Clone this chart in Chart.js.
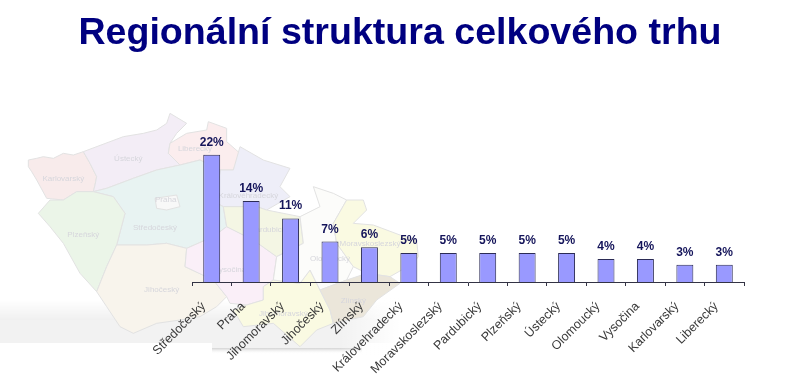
<!DOCTYPE html>
<html><head><meta charset="utf-8">
<script src="https://cdn.jsdelivr.net/npm/chart.js@4"></script>
<style>html,body{margin:0;padding:0;background:#fff}#w{position:relative;width:800px;height:386px;overflow:hidden}
h1{position:absolute;left:0;top:10px;width:800px;margin:0;text-align:center;font:bold 37.6px "Liberation Sans",Arial,sans-serif;color:#000080;line-height:42px;z-index:2}
canvas{position:absolute;left:0;top:0}</style></head>
<body><div id="w"><h1>Regionální struktura celkového trhu</h1><canvas id="c" width="800" height="386"></canvas></div>
<script>
const categories=["Středočeský","Praha","Jihomoravský","Jihočeský","Zlínský","Královehradecký","Moravskoslezský","Pardubický","Plzeňský","Ústecký","Olomoucký","Vysočina","Karlovarský","Liberecký"];
const shares=[22,14,11,7,6,5,5,5,5,5,4,4,3,3];
const axisMin=0, axisMax=25;

// Decorative background map (outline traced from the reference, not data)
const mapRegions=[
 {c:"#f8ebeb",t:"Karlovarský",tx:190,ty:207,p:[85,150,110,145,130,140,160,145,190,130,220,135,250,125,270,160,290,200,285,225,280,245,230,245,190,270,140,265,110,210,95,185,85,170]},
 {c:"#f3edf6",t:"Ústecký",tx:385,ty:147,p:[250,125,330,95,370,80,430,70,470,60,500,40,510,10,560,40,530,70,510,100,505,130,540,165,470,180,400,205,320,235,280,245,285,225,290,200,270,160]},
 {c:"#fbedee",t:"Liberecký",tx:585,ty:117,p:[510,100,560,70,620,60,625,35,680,55,680,95,720,130,700,180,660,180,600,150,540,165,505,130]},
 {c:"#eeeef8",t:"Královéhradecký",tx:745,ty:258,p:[720,110,790,150,870,175,840,230,870,260,800,300,770,290,670,290,650,280,660,180,700,180]},
 {c:"#e8f3f2",t:"Středočeský",tx:465,ty:352,p:[280,245,320,235,400,205,470,180,540,165,600,150,660,180,650,280,670,290,680,350,640,380,560,415,500,400,440,405,350,405,375,310,340,260]},
 {c:"#ebf5e8",t:"Plzeňský",tx:250,ty:375,p:[115,310,150,270,190,270,230,245,280,245,340,260,375,310,350,405,320,470,290,545,240,490,190,400,150,350]},
 {c:"#f8f4ec",t:"Jihočeský",tx:485,ty:538,p:[350,405,440,405,500,400,560,415,555,470,640,510,680,560,650,590,600,620,540,630,470,640,400,670,360,650,320,590,290,545,320,470]},
 {c:"#faeff8",t:"Vysočina",tx:690,ty:480,p:[560,415,640,380,680,350,760,390,830,440,820,510,790,530,790,570,740,585,690,580,680,560,640,510,555,470]},
 {c:"#f4f6e4",t:"Pardubický",tx:810,ty:360,p:[670,290,770,290,800,300,900,320,910,400,830,440,760,390,680,350]},
 {c:"#fafae2",t:"Jihomoravský",tx:850,ty:612,p:[790,530,820,510,900,520,930,480,950,520,960,540,990,600,1000,640,950,660,900,710,820,640,730,650,700,600,740,585,790,570]},
 {c:"#fcfcfa",t:"Olomoucký",tx:990,ty:445,p:[900,320,960,290,940,230,1000,250,1040,270,1000,340,1010,400,1060,470,1040,510,960,540,950,520,930,480,900,520,820,510,830,440,910,400]},
 {c:"#fafae2",t:"Moravskoslezský",tx:1110,ty:400,p:[1040,270,1090,270,1100,300,1060,340,1120,345,1200,375,1250,390,1255,440,1240,460,1170,500,1100,490,1060,470,1010,400,1000,340]},
 {c:"#ebe6da",t:"Zlínský",tx:1060,ty:572,p:[960,540,1040,510,1100,490,1170,500,1200,520,1130,570,1090,620,1000,640,990,600]},
 {c:"#f8f8f8",t:"Praha",tx:497,ty:270,p:[465,265,530,255,540,290,500,300,470,295]}
];
const backdrop={id:"backdrop",beforeDraw(ch){
 const g=ch.ctx;g.save();
 let s=g.createLinearGradient(0,300,0,320);
 s.addColorStop(0,"rgba(240,240,240,0)");s.addColorStop(1,"rgba(240,240,240,1)");
 g.fillStyle=s;g.fillRect(0,300,400,20);
 g.fillStyle="#f2f2f2";g.fillRect(0,320,400,23);
 g.fillRect(212,343,150,5);
 s=g.createLinearGradient(0,348,0,354);
 s.addColorStop(0,"rgba(200,200,200,.8)");s.addColorStop(1,"rgba(255,255,255,0)");
 g.fillStyle=s;g.fillRect(212,348,150,6);
 s=g.createLinearGradient(340,0,400,0);
 s.addColorStop(0,"rgba(255,255,255,0)");s.addColorStop(1,"#fff");
 g.fillStyle=s;g.fillRect(340,298,60,58);
 const X=v=>v/3,Y=v=>110+v/3;
 for(const r of mapRegions){
  g.beginPath();
  for(let i=0;i<r.p.length;i+=2){i?g.lineTo(X(r.p[i]),Y(r.p[i+1])):g.moveTo(X(r.p[i]),Y(r.p[i+1]));}
  g.closePath();g.fillStyle=r.c;g.fill();g.strokeStyle="#e2e2e2";g.lineWidth=1;g.stroke();
 }
 g.font='8px "Liberation Sans",Arial,sans-serif';g.fillStyle="#d6d6dc";g.textAlign="center";g.textBaseline="middle";
 for(const r of mapRegions)g.fillText(r.t,X(r.tx),Y(r.ty));
 g.restore();
}};
const valueLabels={id:"valueLabels",afterDatasetsDraw(ch){
 const g=ch.ctx,m=ch.getDatasetMeta(0);g.save();
 g.font='bold 12px "Liberation Sans",Arial,sans-serif';g.fillStyle="#14145a";g.textAlign="center";g.textBaseline="alphabetic";
 m.data.forEach((b,i)=>g.fillText(shares[i]+"%",b.x,b.y-9));
 g.restore();
}};
new Chart(document.getElementById("c"),{
 type:"bar",
 data:{labels:categories,datasets:[{data:shares,backgroundColor:"#9999ff",borderColor:"#2b2b55",borderWidth:1,barPercentage:1,categoryPercentage:.43}]},
 plugins:[backdrop,valueLabels],
 options:{responsive:false,animation:false,
  layout:{padding:{left:192,right:56,top:137.5,bottom:0}},
  plugins:{legend:{display:false},title:{display:false},tooltip:{enabled:false}},
  scales:{
   y:{display:false,min:axisMin,max:axisMax},
   x:{afterFit(s){s.height=104;},
    border:{color:"#333344",width:1},
    grid:{display:true,drawOnChartArea:false,offset:true,tickLength:4,color:"#333344"},
    ticks:{autoSkip:false,minRotation:45,maxRotation:45,padding:13,labelOffset:-8,color:"#3a3a3a",font:{family:'"Liberation Sans",Arial,sans-serif',size:12.5}}}
  }}
});
</script></body></html>
